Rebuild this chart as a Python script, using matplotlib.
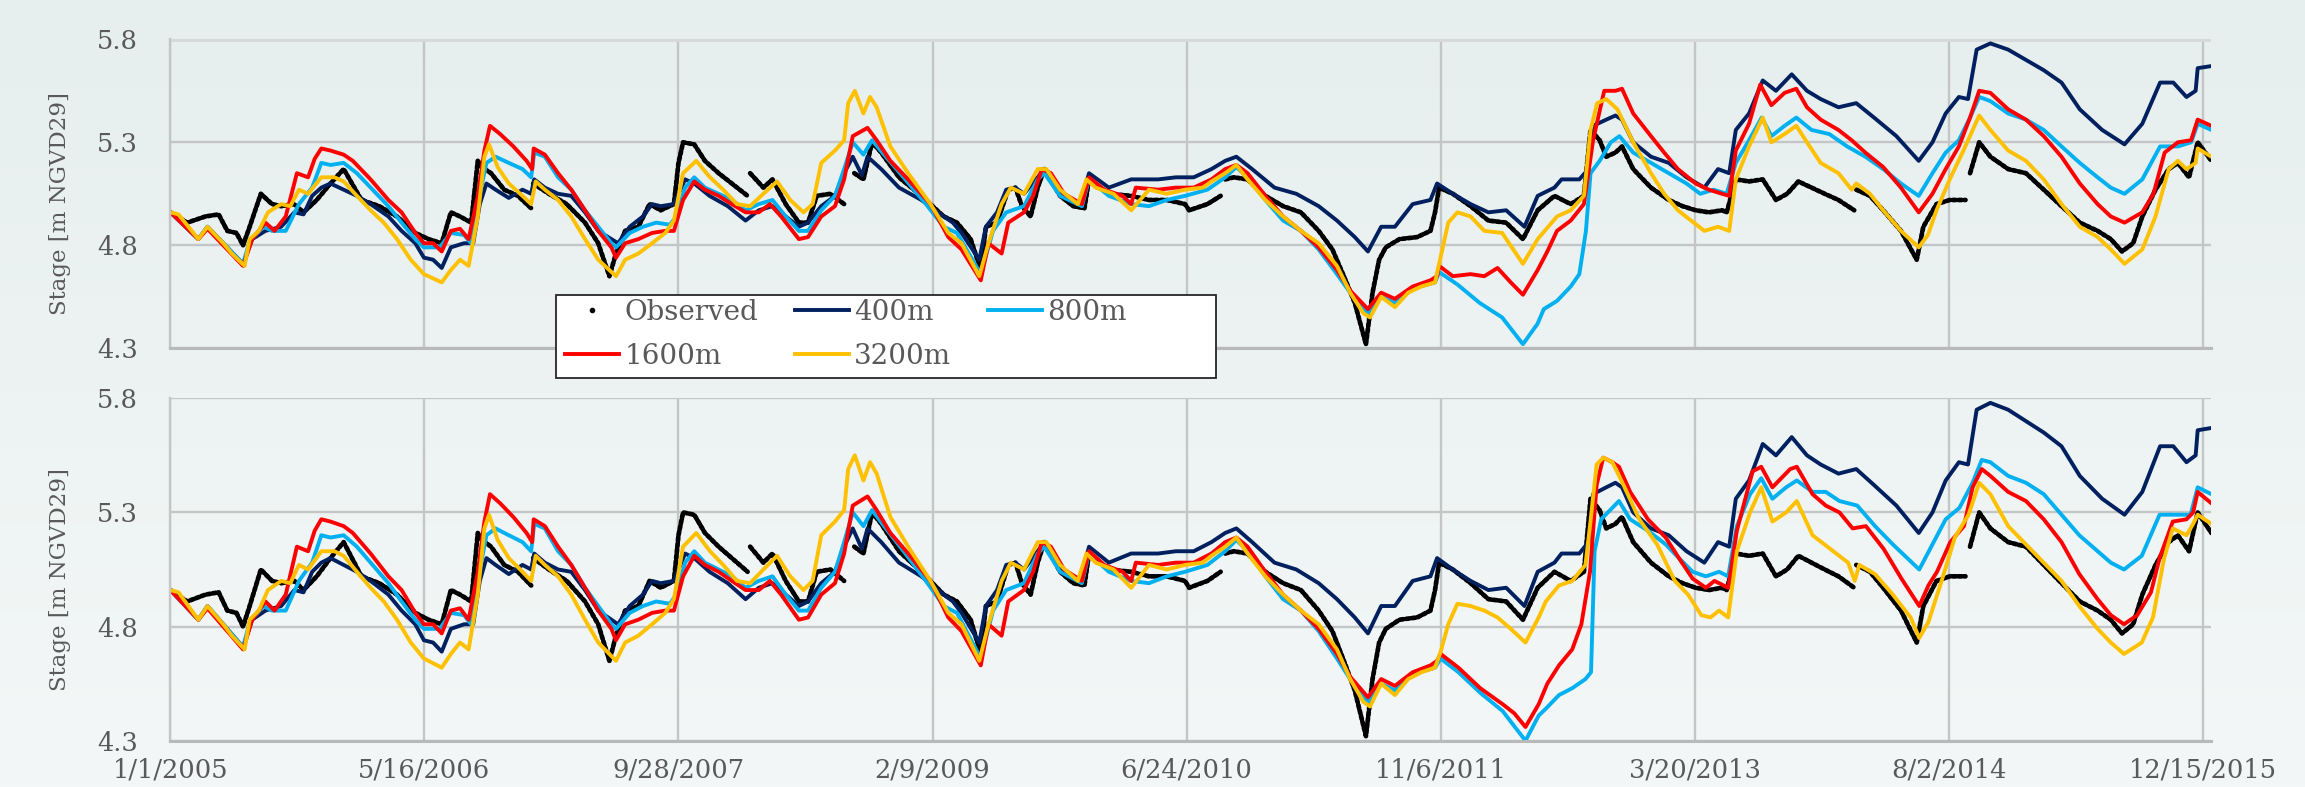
import numpy as np
import pandas as pd
import matplotlib
matplotlib.use("Agg")
import matplotlib.pyplot as plt
from matplotlib.lines import Line2D
from matplotlib.patches import Rectangle
from matplotlib.colors import LinearSegmentedColormap

plt.rcParams['font.family'] = ['DejaVu Serif']

nan = np.nan
start = np.datetime64('2005-01-01')

# (days since 1/1/2005, stage in m NGVD29)
observed = [
    (0, 4.96), (33, 4.91), (69, 4.94), (95, 4.95), (112, 4.87), (130, 4.86), (143, 4.80), (156, 4.89),
    (178, 5.05), (200, 5.00), (218, 4.99), (244, 5.00), (262, 4.96), (288, 5.02), (315, 5.10), (341, 5.17),
    (376, 5.02), (411, 4.99), (446, 4.94), (482, 4.86), (508, 4.83), (534, 4.81), (552, 4.96), (570, 4.94),
    (592, 4.91), (605, 5.21), (613, 5.18), (631, 5.15), (657, 5.07), (684, 5.04), (710, 4.98), (712, nan),
    (714, 5.10), (745, 5.05), (780, 5.00), (816, 4.91), (842, 4.81), (864, 4.65), (877, 4.76), (895, 4.87),
    (921, 4.89), (943, 5.00), (965, 4.97), (991, 5.00), (1000, 5.20), (1009, 5.30), (1031, 5.29), (1052, 5.21),
    (1079, 5.15), (1105, 5.10), (1136, 5.04), (1138, nan), (1141, 5.15), (1167, 5.08), (1185, 5.12),
    (1211, 5.00), (1237, 4.91), (1255, 4.91), (1272, 5.04), (1299, 5.05), (1326, 5.00), (1336, nan),
    (1346, 5.15), (1364, 5.12), (1381, 5.30), (1399, 5.25), (1434, 5.13), (1478, 5.04), (1522, 4.94),
    (1548, 4.91), (1575, 4.83), (1595, 4.68), (1605, 4.89), (1627, 4.91), (1649, 5.07), (1663, 5.08),
    (1676, 4.99), (1693, 4.94), (1707, 5.08), (1720, 5.17), (1751, 5.04), (1777, 4.99), (1799, 4.98),
    (1808, 5.12), (1847, 5.05), (1891, 5.04), (1926, 5.02), (1961, 5.02), (1997, 5.00), (2005, 4.97),
    (2041, 5.00), (2067, 5.04), (2071, nan), (2076, 5.12), (2093, 5.13), (2120, 5.12), (2155, 5.04),
    (2190, 4.99), (2225, 4.96), (2260, 4.87), (2287, 4.78), (2313, 4.63), (2331, 4.52), (2353, 4.32),
    (2366, 4.57), (2379, 4.73), (2392, 4.79), (2419, 4.83), (2454, 4.84), (2480, 4.87), (2489, 4.96),
    (2497, 5.08), (2524, 5.05), (2559, 4.99), (2594, 4.92), (2629, 4.91), (2662, 4.83), (2691, 4.97),
    (2724, 5.04), (2756, 5.00), (2782, 5.04), (2795, 5.36), (2813, 5.31), (2826, 5.23), (2844, 5.25),
    (2857, 5.28), (2879, 5.17), (2914, 5.08), (2949, 5.02), (2976, 4.99), (3002, 4.97), (3028, 4.96),
    (3054, 4.97), (3063, 4.96), (3081, 5.12), (3107, 5.11), (3134, 5.12), (3160, 5.02), (3182, 5.05),
    (3204, 5.11), (3230, 5.08), (3256, 5.05), (3283, 5.02), (3314, 4.97), (3316, nan), (3318, 5.07),
    (3345, 5.04), (3371, 4.97), (3406, 4.87), (3437, 4.73), (3450, 4.89), (3476, 5.00), (3502, 5.02),
    (3533, 5.02), (3537, nan), (3542, 5.15), (3560, 5.30), (3582, 5.23), (3617, 5.17), (3652, 5.15),
    (3687, 5.07), (3722, 4.99), (3758, 4.91), (3793, 4.87), (3819, 4.83), (3841, 4.77), (3863, 4.81),
    (3881, 4.94), (3907, 5.07), (3933, 5.17), (3951, 5.20), (3973, 5.13), (3990, 5.30), (4017, 5.21),
]

m400 = [
    (0, 4.96), (55, 4.83), (73, 4.89), (143, 4.71), (161, 4.83), (187, 4.87), (218, 4.89), (244, 4.96),
    (262, 4.95), (279, 5.04), (297, 5.08), (315, 5.10), (341, 5.07), (367, 5.04), (394, 5.00), (429, 4.94),
    (455, 4.87), (482, 4.81), (499, 4.74), (517, 4.73), (534, 4.69), (552, 4.79), (578, 4.81), (596, 4.81),
    (609, 5.00), (622, 5.10), (640, 5.07), (666, 5.03), (693, 5.07), (710, 5.05), (716, 5.12), (737, 5.08),
    (763, 5.05), (789, 5.04), (816, 4.96), (842, 4.87), (868, 4.83), (881, 4.81), (904, 4.89), (930, 4.94),
    (948, 5.00), (965, 4.99), (991, 5.00), (1013, 5.12), (1031, 5.10), (1061, 5.04), (1097, 4.99),
    (1132, 4.92), (1158, 4.97), (1185, 4.99), (1211, 4.94), (1237, 4.89), (1255, 4.91), (1281, 4.99),
    (1308, 5.04), (1326, 5.15), (1343, 5.23), (1361, 5.14), (1372, 5.23), (1399, 5.17), (1434, 5.08),
    (1478, 5.02), (1522, 4.94), (1540, 4.91), (1557, 4.86), (1592, 4.73), (1605, 4.89), (1627, 4.96),
    (1645, 5.07), (1663, 5.08), (1680, 5.05), (1707, 5.13), (1720, 5.17), (1751, 5.05), (1790, 5.00),
    (1808, 5.15), (1847, 5.08), (1891, 5.12), (1944, 5.12), (1979, 5.13), (2014, 5.13), (2049, 5.17),
    (2076, 5.21), (2098, 5.23), (2129, 5.17), (2173, 5.08), (2216, 5.05), (2260, 4.99), (2296, 4.92),
    (2331, 4.84), (2357, 4.77), (2383, 4.89), (2410, 4.89), (2445, 5.00), (2480, 5.02), (2493, 5.10),
    (2524, 5.05), (2559, 5.00), (2594, 4.96), (2629, 4.97), (2665, 4.89), (2691, 5.04), (2724, 5.08),
    (2738, 5.12), (2773, 5.12), (2791, 5.17), (2800, 5.38), (2826, 5.41), (2844, 5.43), (2857, 5.41),
    (2879, 5.30), (2914, 5.23), (2949, 5.20), (2984, 5.13), (3019, 5.08), (3046, 5.17), (3068, 5.15),
    (3081, 5.36), (3107, 5.44), (3134, 5.60), (3160, 5.55), (3191, 5.63), (3221, 5.55), (3248, 5.51),
    (3283, 5.47), (3318, 5.49), (3353, 5.42), (3397, 5.33), (3441, 5.21), (3468, 5.30), (3494, 5.44),
    (3520, 5.52), (3538, 5.51), (3555, 5.75), (3582, 5.78), (3617, 5.75), (3652, 5.70), (3687, 5.65),
    (3722, 5.59), (3758, 5.46), (3802, 5.36), (3846, 5.29), (3881, 5.39), (3916, 5.59), (3942, 5.59),
    (3968, 5.52), (3986, 5.55), (3990, 5.66), (4017, 5.67),
]

m800_top = [
    (0, 4.96), (55, 4.83), (73, 4.89), (143, 4.71), (156, 4.82), (183, 4.89), (200, 4.87), (227, 4.87),
    (253, 5.00), (279, 5.08), (297, 5.20), (315, 5.19), (341, 5.20), (367, 5.15), (394, 5.08), (429, 4.99),
    (455, 4.91), (482, 4.83), (499, 4.79), (530, 4.79), (552, 4.86), (578, 4.85), (592, 4.81), (609, 5.05),
    (622, 5.20), (640, 5.23), (666, 5.20), (693, 5.17), (710, 5.13), (716, 5.25), (737, 5.23), (763, 5.13),
    (789, 5.07), (816, 4.97), (842, 4.89), (868, 4.81), (877, 4.79), (904, 4.86), (930, 4.89), (956, 4.91),
    (983, 4.90), (996, 4.94), (1013, 5.08), (1031, 5.13), (1052, 5.08), (1079, 5.05), (1105, 5.02),
    (1132, 4.97), (1158, 5.00), (1185, 5.02), (1211, 4.94), (1237, 4.87), (1255, 4.87), (1281, 4.97),
    (1308, 5.04), (1326, 5.17), (1343, 5.30), (1364, 5.24), (1381, 5.31), (1408, 5.23), (1443, 5.13),
    (1487, 5.00), (1522, 4.89), (1548, 4.86), (1595, 4.66), (1619, 4.87), (1645, 4.96), (1680, 4.99),
    (1707, 5.12), (1720, 5.15), (1751, 5.04), (1794, 4.99), (1808, 5.12), (1847, 5.04), (1891, 5.00),
    (1926, 4.99), (1961, 5.02), (1997, 5.04), (2041, 5.07), (2076, 5.13), (2098, 5.18), (2120, 5.13),
    (2155, 5.02), (2190, 4.92), (2225, 4.87), (2260, 4.78), (2296, 4.66), (2322, 4.57), (2357, 4.47),
    (2383, 4.55), (2410, 4.52), (2445, 4.59), (2489, 4.62), (2497, 4.67), (2533, 4.61), (2577, 4.52),
    (2621, 4.45), (2662, 4.32), (2691, 4.42), (2703, 4.49), (2729, 4.53), (2756, 4.60), (2773, 4.66),
    (2786, 4.87), (2795, 5.15), (2813, 5.21), (2835, 5.30), (2852, 5.33), (2879, 5.25), (2914, 5.20),
    (2949, 5.15), (2984, 5.10), (3011, 5.05), (3037, 5.07), (3063, 5.05), (3081, 5.20), (3107, 5.31),
    (3132, 5.42), (3151, 5.33), (3177, 5.38), (3200, 5.42), (3230, 5.36), (3265, 5.34), (3300, 5.28),
    (3336, 5.23), (3371, 5.17), (3406, 5.10), (3441, 5.04), (3468, 5.15), (3494, 5.25), (3520, 5.31),
    (3542, 5.42), (3560, 5.52), (3582, 5.50), (3617, 5.44), (3652, 5.41), (3687, 5.36), (3722, 5.28),
    (3758, 5.20), (3793, 5.13), (3819, 5.08), (3846, 5.05), (3881, 5.12), (3916, 5.28), (3951, 5.28),
    (3977, 5.30), (3990, 5.39), (4017, 5.36),
]

m1600_top = [
    (0, 4.96), (55, 4.83), (73, 4.88), (143, 4.70), (161, 4.83), (187, 4.91), (205, 4.87), (227, 4.94),
    (249, 5.15), (271, 5.13), (284, 5.22), (297, 5.27), (315, 5.26), (341, 5.24), (359, 5.21), (394, 5.12),
    (429, 5.02), (455, 4.96), (482, 4.86), (499, 4.81), (517, 4.81), (534, 4.77), (552, 4.87), (570, 4.88),
    (587, 4.83), (605, 5.04), (618, 5.26), (629, 5.38), (649, 5.34), (675, 5.28), (701, 5.21), (712, 5.17),
    (715, 5.27), (737, 5.24), (763, 5.15), (789, 5.07), (816, 4.97), (842, 4.87), (868, 4.79), (877, 4.74),
    (895, 4.81), (921, 4.83), (948, 4.86), (974, 4.87), (991, 4.87), (1009, 5.02), (1031, 5.11),
    (1052, 5.07), (1079, 5.04), (1105, 5.00), (1132, 4.96), (1158, 4.96), (1180, 5.00), (1202, 4.94),
    (1237, 4.83), (1255, 4.84), (1281, 4.94), (1308, 4.99), (1326, 5.12), (1343, 5.33), (1372, 5.37),
    (1390, 5.31), (1417, 5.21), (1452, 5.12), (1496, 5.00), (1531, 4.84), (1557, 4.78), (1595, 4.63),
    (1610, 4.81), (1636, 4.76), (1649, 4.91), (1680, 4.96), (1698, 5.04), (1715, 5.17), (1733, 5.15),
    (1759, 5.05), (1794, 5.00), (1808, 5.13), (1838, 5.07), (1874, 5.04), (1891, 5.00), (1900, 5.08),
    (1944, 5.07), (1979, 5.08), (2014, 5.08), (2049, 5.12), (2076, 5.17), (2098, 5.19), (2120, 5.15),
    (2155, 5.04), (2190, 4.94), (2225, 4.87), (2260, 4.79), (2296, 4.68), (2322, 4.58), (2357, 4.49),
    (2383, 4.57), (2410, 4.54), (2445, 4.60), (2480, 4.63), (2493, 4.65), (2497, 4.70), (2524, 4.65),
    (2559, 4.66), (2586, 4.65), (2612, 4.69), (2638, 4.62), (2662, 4.56), (2691, 4.68), (2710, 4.77),
    (2729, 4.87), (2756, 4.92), (2782, 5.00), (2800, 5.31), (2822, 5.55), (2844, 5.55), (2857, 5.56),
    (2879, 5.44), (2914, 5.33), (2940, 5.25), (2967, 5.17), (3002, 5.10), (3028, 5.07), (3054, 5.05),
    (3068, 5.04), (3081, 5.26), (3107, 5.39), (3129, 5.58), (3151, 5.48), (3177, 5.54), (3200, 5.56),
    (3221, 5.47), (3248, 5.41), (3283, 5.36), (3309, 5.31), (3336, 5.25), (3371, 5.18), (3406, 5.08),
    (3441, 4.96), (3468, 5.05), (3494, 5.17), (3520, 5.28), (3542, 5.42), (3560, 5.55), (3582, 5.54),
    (3617, 5.46), (3652, 5.41), (3687, 5.33), (3722, 5.23), (3758, 5.10), (3793, 5.00), (3819, 4.94),
    (3846, 4.91), (3881, 4.96), (3903, 5.05), (3925, 5.25), (3951, 5.30), (3977, 5.31), (3990, 5.41),
    (4017, 5.38),
]

m3200_top = [
    (0, 4.96), (16, 4.95), (55, 4.83), (73, 4.89), (104, 4.81), (121, 4.76), (146, 4.70), (156, 4.83),
    (174, 4.87), (192, 4.96), (218, 5.00), (236, 4.99), (253, 5.07), (271, 5.05), (297, 5.13), (323, 5.13),
    (341, 5.11), (367, 5.04), (394, 4.97), (420, 4.91), (446, 4.83), (473, 4.73), (499, 4.66), (534, 4.62),
    (552, 4.68), (570, 4.73), (587, 4.70), (605, 4.94), (618, 5.23), (627, 5.29), (644, 5.18), (666, 5.10),
    (693, 5.04), (710, 5.00), (719, 5.11), (737, 5.07), (763, 5.02), (789, 4.94), (816, 4.83), (842, 4.73),
    (877, 4.65), (895, 4.73), (921, 4.76), (948, 4.81), (974, 4.86), (991, 4.92), (1009, 5.15),
    (1035, 5.21), (1062, 5.13), (1088, 5.07), (1115, 5.00), (1141, 4.99), (1167, 5.05), (1194, 5.11),
    (1220, 5.02), (1246, 4.96), (1264, 5.00), (1281, 5.20), (1308, 5.26), (1326, 5.31), (1334, 5.49),
    (1347, 5.55), (1364, 5.44), (1377, 5.52), (1390, 5.47), (1417, 5.28), (1452, 5.15), (1496, 5.00),
    (1531, 4.86), (1557, 4.81), (1592, 4.65), (1610, 4.81), (1636, 5.00), (1654, 5.08), (1680, 5.05),
    (1707, 5.17), (1724, 5.17), (1751, 5.07), (1786, 5.00), (1803, 5.12), (1821, 5.08), (1856, 5.05),
    (1891, 4.97), (1926, 5.07), (1961, 5.05), (1997, 5.07), (2032, 5.08), (2049, 5.11), (2076, 5.15),
    (2098, 5.19), (2120, 5.12), (2155, 5.02), (2190, 4.94), (2225, 4.87), (2260, 4.81), (2296, 4.70),
    (2322, 4.57), (2348, 4.47), (2361, 4.45), (2383, 4.55), (2410, 4.50), (2436, 4.57), (2462, 4.60),
    (2489, 4.62), (2497, 4.71), (2515, 4.91), (2533, 4.96), (2559, 4.94), (2586, 4.87), (2621, 4.86),
    (2662, 4.71), (2691, 4.83), (2729, 4.94), (2756, 4.97), (2782, 5.04), (2795, 5.36), (2808, 5.49),
    (2826, 5.51), (2848, 5.46), (2879, 5.30), (2914, 5.15), (2940, 5.05), (2967, 4.97), (2993, 4.92),
    (3019, 4.87), (3046, 4.89), (3068, 4.87), (3081, 5.12), (3107, 5.28), (3134, 5.42), (3151, 5.30),
    (3177, 5.34), (3200, 5.38), (3221, 5.30), (3248, 5.20), (3283, 5.15), (3309, 5.07), (3318, 5.10),
    (3345, 5.05), (3371, 4.97), (3406, 4.87), (3441, 4.79), (3459, 4.85), (3476, 4.97), (3502, 5.12),
    (3529, 5.26), (3560, 5.43), (3582, 5.36), (3617, 5.26), (3652, 5.21), (3687, 5.12), (3722, 5.00),
    (3758, 4.89), (3793, 4.84), (3819, 4.78), (3846, 4.71), (3881, 4.78), (3907, 4.94), (3933, 5.17),
    (3951, 5.21), (3968, 5.17), (3986, 5.20), (3990, 5.27), (4017, 5.23),
]

# lower panel: same runs up to late 2011, different afterwards
split_day = 2495
m800_tail = [
    (2500, 4.66), (2535, 4.60), (2578, 4.51), (2622, 4.43), (2667, 4.30), (2693, 4.41), (2707, 4.44),
    (2733, 4.50), (2759, 4.53), (2785, 4.57), (2796, 4.60), (2803, 5.13), (2816, 5.27), (2838, 5.32),
    (2851, 5.35), (2873, 5.27), (2908, 5.22), (2943, 5.16), (2969, 5.10), (2996, 5.04), (3022, 5.02),
    (3048, 5.04), (3066, 5.02), (3083, 5.24), (3109, 5.38), (3131, 5.45), (3153, 5.36), (3180, 5.41),
    (3201, 5.44), (3232, 5.39), (3258, 5.39), (3285, 5.35), (3320, 5.33), (3355, 5.24), (3390, 5.16),
    (3442, 5.05), (3468, 5.16), (3494, 5.27), (3521, 5.32), (3547, 5.43), (3565, 5.53), (3582, 5.52),
    (3617, 5.46), (3652, 5.43), (3687, 5.38), (3722, 5.29), (3757, 5.20), (3793, 5.13), (3819, 5.08),
    (3845, 5.05), (3880, 5.11), (3915, 5.29), (3950, 5.29), (3976, 5.29), (3990, 5.41), (4017, 5.38),
]
m1600_tail = [
    (2500, 4.68), (2535, 4.62), (2578, 4.53), (2622, 4.46), (2645, 4.42), (2667, 4.36), (2693, 4.46),
    (2710, 4.55), (2733, 4.63), (2759, 4.70), (2777, 4.81), (2794, 5.04), (2807, 5.42), (2820, 5.54),
    (2838, 5.52), (2851, 5.50), (2873, 5.39), (2908, 5.27), (2943, 5.19), (2969, 5.10), (2996, 5.01),
    (3022, 4.97), (3039, 5.00), (3066, 4.97), (3083, 5.22), (3114, 5.48), (3131, 5.50), (3153, 5.41),
    (3188, 5.49), (3201, 5.50), (3232, 5.38), (3258, 5.33), (3285, 5.30), (3311, 5.23), (3337, 5.24),
    (3372, 5.14), (3407, 5.01), (3442, 4.89), (3460, 4.98), (3477, 5.04), (3503, 5.17), (3530, 5.24),
    (3547, 5.41), (3565, 5.49), (3582, 5.46), (3617, 5.39), (3652, 5.35), (3687, 5.27), (3722, 5.17),
    (3757, 5.03), (3793, 4.92), (3819, 4.85), (3845, 4.81), (3871, 4.85), (3898, 4.95), (3915, 5.10),
    (3941, 5.26), (3968, 5.27), (3981, 5.30), (3990, 5.39), (4017, 5.34),
]
m3200_tail = [
    (2500, 4.69), (2515, 4.81), (2533, 4.90), (2559, 4.89), (2586, 4.87), (2612, 4.84), (2638, 4.79),
    (2667, 4.73), (2693, 4.84), (2707, 4.91), (2733, 4.98), (2759, 5.00), (2785, 5.07), (2794, 5.24),
    (2807, 5.51), (2820, 5.54), (2838, 5.52), (2860, 5.42), (2891, 5.27), (2926, 5.16), (2961, 5.00),
    (2987, 4.94), (3013, 4.85), (3031, 4.84), (3048, 4.87), (3066, 4.84), (3083, 5.13), (3109, 5.30),
    (3131, 5.41), (3153, 5.26), (3180, 5.30), (3201, 5.35), (3232, 5.20), (3267, 5.14), (3302, 5.08),
    (3315, 5.00), (3324, 5.07), (3355, 5.03), (3390, 4.94), (3425, 4.84), (3442, 4.75), (3460, 4.82),
    (3486, 5.00), (3512, 5.19), (3539, 5.29), (3560, 5.43), (3582, 5.38), (3617, 5.24), (3652, 5.16),
    (3687, 5.08), (3722, 5.00), (3757, 4.89), (3793, 4.79), (3819, 4.73), (3845, 4.68), (3880, 4.73),
    (3902, 4.84), (3924, 5.10), (3941, 5.23), (3968, 5.20), (3981, 5.25), (3990, 5.29), (4017, 5.25),
]

series_names = ['400m', '800m', '1600m', '3200m']
series_colors = ['#002060', '#00b0f0', '#ff0000', '#ffc000']
xtick_labels = ['1/1/2005', '5/16/2006', '9/28/2007', '2/9/2009', '6/24/2010',
                '11/6/2011', '3/20/2013', '8/2/2014', '12/15/2015']
ytick_vals = [4.3, 4.8, 5.3, 5.8]


def join(top, tail):
    return [p for p in top if p[0] < split_day] + tail


panels = [
    [m400, m800_top, m1600_top, m3200_top],
    [m400, join(m800_top, m800_tail), join(m1600_top, m1600_tail), join(m3200_top, m3200_tail)],
]


def to_xy(pairs):
    d, v = zip(*pairs)
    return start + np.array(d).astype('timedelta64[D]'), np.array(v, dtype=float)


W, H = 2305, 787
fig = plt.figure(figsize=(W / 100, H / 100), dpi=100)

# soft vertical gradient behind everything
bg = fig.add_axes([0, 0, 1, 1], zorder=-1)
cmap = LinearSegmentedColormap.from_list('bg', ['#e6efee', '#f4f7f7'])
bg.imshow(np.linspace(0, 1, 256).reshape(-1, 1), cmap=cmap, aspect='auto', extent=[0, 1, 0, 1])
bg.axis('off')

ax1 = fig.add_axes([170.4 / W, 1 - 348.3 / H, 2041 / W, 309 / H])
ax2 = fig.add_axes([170.4 / W, 1 - 740.7 / H, 2041 / W, 342.4 / H])

tick_pos = start + np.arange(len(xtick_labels)) * np.timedelta64(500, 'D')
txt = '#595959'
grid_c = '#c4c6c6'

for k, ax in enumerate([ax1, ax2]):
    ax.set_facecolor('none')
    ox, oy = to_xy(observed)
    ax.plot(ox, oy, color='black', lw=3.4, ls=(0, (0.7, 0.55)), dash_capstyle='round', zorder=2)
    for pairs, c in zip(panels[k], series_colors):
        x, y = to_xy(pairs)
        ax.plot(x, y, color=c, lw=2.8, zorder=2)

    ax.set_xlim(start, start + np.timedelta64(4017, 'D'))
    ax.set_ylim(4.3, 5.8)
    ax.set_yticks(ytick_vals)
    ax.set_yticklabels([f'{v:.1f}' for v in ytick_vals])
    ax.set_xticks(tick_pos)
    ax.set_axisbelow(True)
    ax.grid(True, color=grid_c, lw=1.7)
    for s in ['top', 'right']:
        ax.spines[s].set_visible(False)
    ax.spines['left'].set_color(grid_c)
    ax.spines['left'].set_linewidth(1.7)
    ax.spines['bottom'].set_color('#b8baba')
    ax.spines['bottom'].set_linewidth(2.2)
    ax.tick_params(axis='both', length=0, labelsize=18.5, labelcolor=txt)
    ax.tick_params(axis='y', pad=23.5)
    ax.set_ylabel('Stage [m NGVD29]', fontsize=16.5, color=txt)
    ax.yaxis.set_label_coords(-0.0487, 0.47)

ax1.set_xticklabels([])
ax1.axhline(5.8, color='#d5d9d9', lw=3.5, zorder=1.5)
ax2.set_xticklabels(xtick_labels)
ax2.tick_params(axis='x', pad=12)

# legend with a plain rectangular frame
ax1.add_patch(Rectangle((556 / W, 1 - 378 / H), 660 / W, 83 / H, transform=fig.transFigure,
                        facecolor='white', edgecolor='#262626', lw=1.3, zorder=4.5, clip_on=False))
h_obs = Line2D([], [], color='black', marker='.', ls='none', markersize=6)
h = [Line2D([], [], color=c, lw=2.8) for c in series_colors]
handles = [h_obs, h[2], h[0], h[3], h[1]]
labels = ['Observed', series_names[2], series_names[0], series_names[3], series_names[1]]
ax1.legend(handles, labels, ncol=3, loc='upper left', bbox_to_anchor=(565 / W, 1 - 299 / H),
           bbox_transform=fig.transFigure, frameon=False, fontsize=20, labelcolor=txt,
           handlelength=1.95, handletextpad=0.2, columnspacing=1.3, labelspacing=0.6,
           borderpad=0, borderaxespad=0)

fig.savefig('out.png', dpi=100)
